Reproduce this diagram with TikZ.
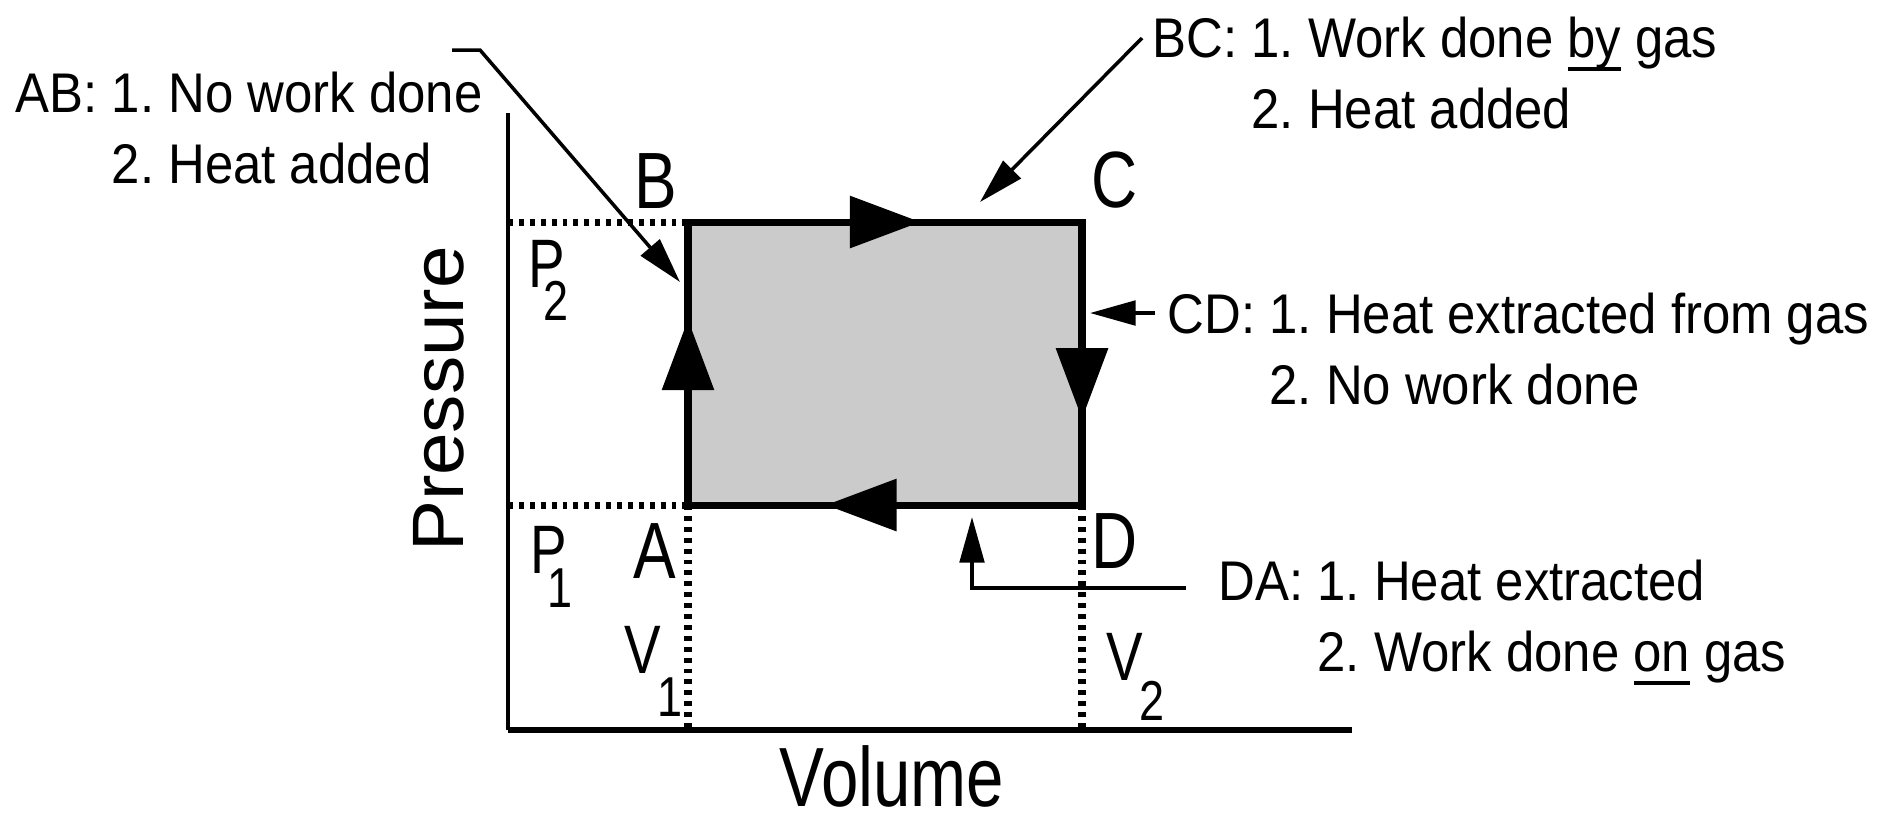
\documentclass[tikz,border=0pt]{standalone}
\usepackage{fontspec}
\setmainfont{Liberation Sans}[FakeStretch=0.91]
\newfontfamily\labelfont{Liberation Sans}[FakeStretch=0.8]
\newfontfamily\axisfont{Liberation Sans}[FakeStretch=1.05]
\usepackage{xcolor}
\usetikzlibrary{arrows.meta,decorations.markings}
\definecolor{cyclegray}{RGB}{203,203,203}
\newcommand{\gasunder}[1]{\setbox0\hbox{#1}\rlap{\rule[-4pt]{\wd0}{1.3pt}}#1}
\newcommand{\pvsub}[4]{#1\kern#3\raisebox{#4}{\fontsize{16}{18}\selectfont #2}}
\frenchspacing

\begin{document}
\begin{tikzpicture}[x=0.01cm,y=-0.01cm]
    \pgfmathsetmacro{\xlo}{688}
    \pgfmathsetmacro{\xhi}{1082}
    \pgfmathsetmacro{\ylo}{505}
    \pgfmathsetmacro{\yhi}{222}
    \tikzset{
      note/.style={font=\fontsize{15.9}{20.2}\selectfont,anchor=base west,inner sep=0pt},
      corner/.style={font={\labelfont\fontsize{22.7}{26}\selectfont},anchor=base,inner sep=0pt},
      pvlabel/.style={font={\labelfont\fontsize{19.5}{22}\selectfont},anchor=base west,inner sep=0pt},
      leader/.style={line width=1pt,-{Triangle[length=13pt,width=7pt]}},
      dotline/.style={line width=2pt,dash pattern=on 1.4pt off 1.7pt},
      cycleline/.style={line width=2pt,line cap=rect},
      midtri/.style={postaction={decorate,decoration={markings,
        mark=at position #1 with {\fill (10pt,0pt) -- (-10pt,7.5pt) -- (-10pt,-7.5pt) -- cycle;}}}}
    }
    \useasboundingbox (0,0) rectangle (1888,826);
    \coordinate (A) at (\xlo,\ylo);
    \coordinate (B) at (\xlo,\yhi);
    \coordinate (C) at (\xhi,\yhi);
    \coordinate (D) at (\xhi,\ylo);
    \coordinate (origin) at (508,730);
    \coordinate (ytop) at (508,113);
    \coordinate (xend) at (1352,730);
    \fill[cyclegray] (A) rectangle (C);
    \draw[dotline] (ytop |- B) -- (B);
    \draw[dotline] (ytop |- A) -- (A);
    \draw[dotline] (A) -- (A |- origin);
    \draw[dotline] (D) -- (D |- origin);
    \draw[line width=1.1pt] (ytop) -- (origin);
    \draw[line width=1.5pt] (origin) -- (xend);
    \draw[cycleline,midtri=0.53] (A) -- (B);
    \draw[cycleline,midtri=0.5] (B) -- (C);
    \draw[cycleline,midtri=0.57] (C) -- (D);
    \draw[cycleline,midtri=0.56] (D) -- (A);
    \node[corner] (labelA) at (655,578) {A};
    \node[corner] (labelB) at (656,208) {B};
    \node[corner] (labelC) at (1115,207) {C};
    \node[corner] (labelD) at (1115,568) {D};
    \node[pvlabel] (P2) at (528,287) {\pvsub{P}{2}{-6.1pt}{-9.4pt}};
    \node[pvlabel] (P1) at (530,573) {\pvsub{P}{1}{-5.6pt}{-9.7pt}};
    \node[pvlabel] (V1) at (624,673) {\pvsub{V}{1}{-1pt}{-12.5pt}};
    \node[pvlabel] (V2) at (1106,680) {\pvsub{V}{2}{-1pt}{-11.4pt}};
    \node[font={\axisfont\fontsize{20.7}{24}\selectfont},rotate=90,anchor=base,inner sep=0pt] (pressure) at (463,399) {Pressure};
    \node[font={\labelfont\fontsize{23.9}{27}\selectfont},anchor=base,inner sep=0pt] (volume) at (892,806) {Volume};
    \node[note] (noteAB) at (15,112) {\begin{tabular}[t]{@{}l@{}l@{}}AB:~ & 1. No work done\\ & 2. Heat added\end{tabular}};
    \node[note] (noteBC) at (1152,57) {\begin{tabular}[t]{@{}l@{}l@{}}BC:~ & 1. Work done \gasunder{by} gas\\ & 2. Heat added\end{tabular}};
    \node[note] (noteCD) at (1167,333) {\begin{tabular}[t]{@{}l@{}l@{}}CD:~ & 1. Heat extracted from gas\\ & 2. No work done\end{tabular}};
    \node[note] (noteDA) at (1218,600) {\begin{tabular}[t]{@{}l@{}l@{}}DA:~ & 1. Heat extracted\\ & 2. Work done \gasunder{on} gas\end{tabular}};
    \coordinate (abstart) at (452,50);
    \coordinate (abtip) at (680,282);
    \coordinate (bcstart) at (1142,38);
    \coordinate (bctip) at (980,202);
    \coordinate (cdstart) at (1155,313);
    \coordinate (cdtip) at (1090,313);
    \coordinate (dastart) at (1186,588);
    \coordinate (datip) at (972,517);
    \draw[leader] (abstart) -- ++(28,0) -- (abtip);
    \draw[leader] (bcstart) -- (bctip);
    \draw[leader] (cdstart) -- (cdtip);
    \draw[leader] (dastart) -| (datip);
\end{tikzpicture}
\end{document}
